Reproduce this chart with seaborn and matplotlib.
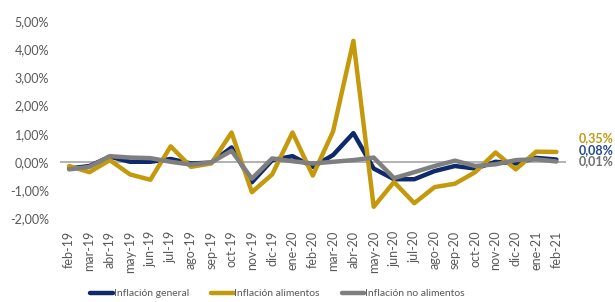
import matplotlib
matplotlib.use("Agg")
import matplotlib.pyplot as plt
import seaborn as sns
import pandas as pd

months = ["feb-19","mar-19","abr-19","may-19","jun-19","jul-19","ago-19","sep-19","oct-19",
          "nov-19","dic-19","ene-20","feb-20","mar-20","abr-20","may-20","jun-20","jul-20",
          "ago-20","sep-20","oct-20","nov-20","dic-20","ene-21","feb-21"]
general = [-0.24,-0.15,0.18,0.0,0.0,0.10,-0.06,-0.03,0.51,-0.73,0.06,0.20,-0.18,
           0.24,1.02,-0.24,-0.62,-0.62,-0.33,-0.15,-0.24,0.0,-0.06,0.14,0.08]
alimentos = [-0.15,-0.37,0.06,-0.45,-0.64,0.55,-0.18,-0.06,1.04,-1.08,-0.45,1.04,-0.49,
             1.08,4.30,-1.60,-0.72,-1.47,-0.90,-0.78,-0.37,0.33,-0.27,0.36,0.35]
no_alimentos = [-0.27,-0.18,0.20,0.15,0.13,0.0,-0.10,-0.02,0.39,-0.60,0.12,0.02,-0.06,
                0.0,0.06,0.15,-0.58,-0.37,-0.15,0.04,-0.15,-0.09,0.06,0.09,0.01]
series_names = ["Inflación general", "Inflación alimentos", "Inflación no alimentos"]
end_labels = ["0,08%", "0,35%", "0,01%"]
colors = ["#0E2A6B", "#C49A0C", "#7F7F7F"]
label_colors = ["#234A8C", "#C49A0C", "#6F6F6F"]

sns.set_theme(style="white")
plt.rcParams['font.family'] = ['Lato', 'DejaVu Sans']

rows = []
for name, vals in zip(series_names, [general, alimentos, no_alimentos]):
    for i, (m, v) in enumerate(zip(months, vals)):
        rows.append({"idx": i, "mes": m, "serie": name, "valor": v})
df = pd.DataFrame(rows)

fig = plt.figure(figsize=(6.15, 3.02), dpi=100)
ax = fig.add_axes([0.0976, 0.278, 0.822, 0.652])
ax.axhline(0, color="#A6A6A6", lw=1.2, zorder=1)
sns.lineplot(data=df, x="idx", y="valor", hue="serie", palette=colors,
             hue_order=series_names, linewidth=3.2, ax=ax, legend=True, zorder=3)

ax.set_xlim(-0.45, 24.45)
ax.set_ylim(-2, 5)
ax.set_yticks(range(-2, 6))
ax.set_yticklabels([f"{v:.2f}%".replace(".", ",") for v in range(-2, 6)],
                   fontsize=9, color="#595959")
ax.set_xticks(range(len(months)))
ax.set_xticklabels(months, rotation=90, fontsize=9, color="#595959")
ax.tick_params(axis="y", length=0, pad=8)
ax.tick_params(axis="x", length=0, pad=9)
for s in ax.spines.values():
    s.set_visible(False)
ax.set_xlabel("")
ax.set_ylabel("")

# end labels
ax.text(25.1, 0.85, end_labels[1], color=label_colors[1], fontsize=9, fontweight="bold",
        va="center", ha="left", clip_on=False)
ax.text(25.1, 0.42, end_labels[0], color=label_colors[0], fontsize=9, fontweight="bold",
        va="center", ha="left", clip_on=False)
ax.text(25.1, 0.03, end_labels[2], color=label_colors[2], fontsize=9, fontweight="bold",
        va="center", ha="left", clip_on=False)

leg = ax.legend(loc="center", bbox_to_anchor=(0.43, -0.385), ncol=3, frameon=False,
                fontsize=7.5, handlelength=2.2, handletextpad=0.05, columnspacing=2.1,
                labelcolor="#595959", borderpad=0)
for h in leg.get_lines():
    h.set_linewidth(3.2)

fig.savefig("out.png", dpi=100)
